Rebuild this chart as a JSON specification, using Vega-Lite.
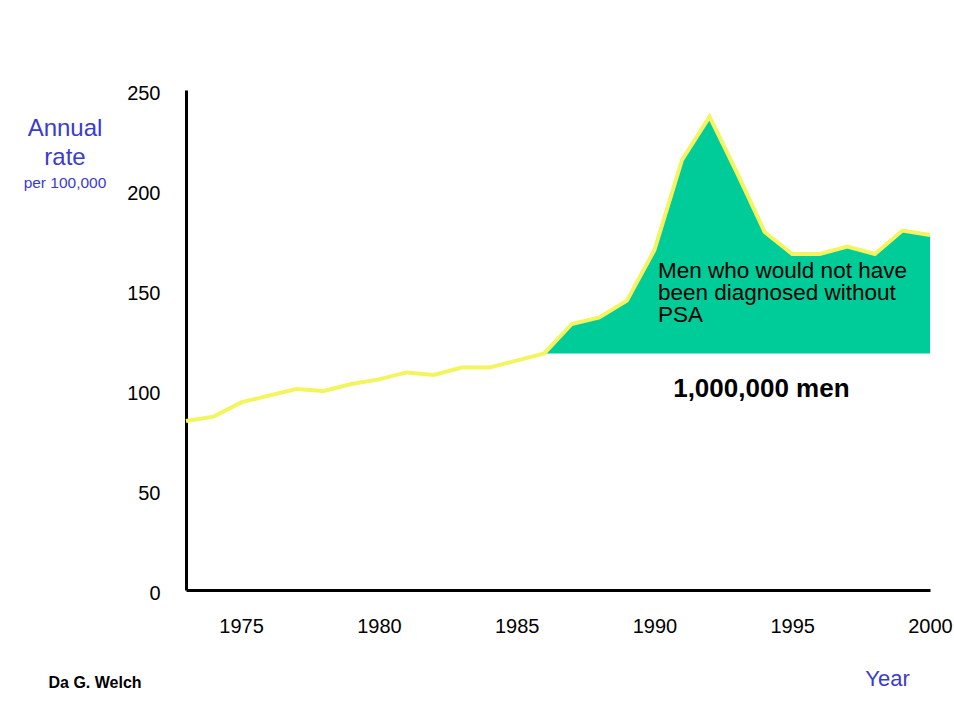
{
  "$schema": "https://vega.github.io/schema/vega-lite/v6.json",
  "width": 744,
  "height": 500,
  "autosize": {"type": "none"},
  "padding": {"left": 186, "top": 90, "right": 24, "bottom": 130},
  "background": "white",
  "config": {
    "font": "Liberation Sans",
    "view": {"stroke": null},
    "axis": {
      "grid": false,
      "ticks": false,
      "tickSize": 0,
      "domainColor": "black",
      "domainWidth": 3,
      "labelColor": "black",
      "labelFont": "Liberation Sans",
      "labelFontSize": 20
    }
  },
  "title": {
    "text": ["Annual", "rate"],
    "subtitle": "per 100,000",
    "anchor": "start",
    "frame": "group",
    "align": "center",
    "dx": -121,
    "dy": 112,
    "font": "Liberation Sans",
    "fontSize": 24,
    "fontWeight": "normal",
    "lineHeight": 29,
    "color": "#3b3bd0",
    "subtitleFont": "Liberation Sans",
    "subtitleFontSize": 15.5,
    "subtitleColor": "#3b3bd0",
    "subtitlePadding": 6
  },
  "layer": [
    {
      "data": {
        "values": [
          {"year": 1973, "rate": 84.5},
          {"year": 1974, "rate": 86.7},
          {"year": 1975, "rate": 93.8},
          {"year": 1976, "rate": 97.2},
          {"year": 1977, "rate": 100.5},
          {"year": 1978, "rate": 99.5},
          {"year": 1979, "rate": 103.0},
          {"year": 1980, "rate": 105.3},
          {"year": 1981, "rate": 108.8},
          {"year": 1982, "rate": 107.5},
          {"year": 1983, "rate": 111.2},
          {"year": 1984, "rate": 111.2},
          {"year": 1985, "rate": 114.7},
          {"year": 1986, "rate": 118.3},
          {"year": 1987, "rate": 133.0},
          {"year": 1988, "rate": 136.3},
          {"year": 1989, "rate": 144.7},
          {"year": 1990, "rate": 170.0},
          {"year": 1991, "rate": 215.0},
          {"year": 1992, "rate": 236.7},
          {"year": 1993, "rate": 208.5},
          {"year": 1994, "rate": 179.0},
          {"year": 1995, "rate": 168.0},
          {"year": 1996, "rate": 168.0},
          {"year": 1997, "rate": 171.7},
          {"year": 1998, "rate": 168.0},
          {"year": 1999, "rate": 179.7},
          {"year": 2000, "rate": 177.5}
        ]
      },
      "encoding": {
        "x": {
          "field": "year",
          "type": "quantitative",
          "scale": {"domain": [1973, 2000], "nice": false, "zero": false},
          "axis": {
            "values": [1975, 1980, 1985, 1990, 1995, 2000],
            "format": "d",
            "labelPadding": 26,
            "labelFlush": false,
            "title": "Year",
            "titleColor": "#3b3bd0",
            "titleFont": "Liberation Sans",
            "titleFontSize": 22,
            "titleFontWeight": "normal",
            "titleAlign": "center",
            "titleBaseline": "alphabetic",
            "titleX": 701,
            "titleY": 95
          }
        },
        "y": {
          "field": "rate",
          "type": "quantitative",
          "scale": {"domain": [0, 250], "nice": false},
          "axis": {
            "values": [0, 50, 100, 150, 200, 250],
            "labelPadding": 26,
            "labelOffset": 3,
            "labelFlush": false,
            "title": "Da G. Welch",
            "titleAngle": 0,
            "titleColor": "black",
            "titleFont": "Liberation Sans",
            "titleFontSize": 16,
            "titleFontWeight": "bold",
            "titleAlign": "left",
            "titleBaseline": "alphabetic",
            "titleX": -138,
            "titleY": 597
          }
        }
      },
      "layer": [
        {
          "transform": [{"filter": "datum.year >= 1986"}],
          "mark": {"type": "area", "color": "#00cc99", "opacity": 1},
          "encoding": {"y2": {"datum": 118.3}}
        },
        {
          "mark": {"type": "line", "color": "#f4f45e", "strokeWidth": 4, "strokeJoin": "miter"},
          "encoding": {}
        }
      ]
    },
    {
      "data": {"values": [{"label": "Men who would not have|been diagnosed without|PSA"}]},
      "mark": {
        "type": "text",
        "align": "left",
        "baseline": "alphabetic",
        "font": "Liberation Sans",
        "fontSize": 22.5,
        "lineHeight": 22,
        "lineBreak": "|",
        "color": "black"
      },
      "encoding": {
        "x": {"datum": 1990.13, "type": "quantitative"},
        "y": {"datum": 156, "type": "quantitative"},
        "text": {"field": "label"}
      }
    },
    {
      "data": {"values": [{"label": "1,000,000 men"}]},
      "mark": {
        "type": "text",
        "align": "center",
        "baseline": "alphabetic",
        "font": "Liberation Sans",
        "fontSize": 26,
        "fontWeight": "bold",
        "color": "black"
      },
      "encoding": {
        "x": {"datum": 1993.88, "type": "quantitative"},
        "y": {"datum": 96.5, "type": "quantitative"},
        "text": {"field": "label"}
      }
    }
  ]
}
